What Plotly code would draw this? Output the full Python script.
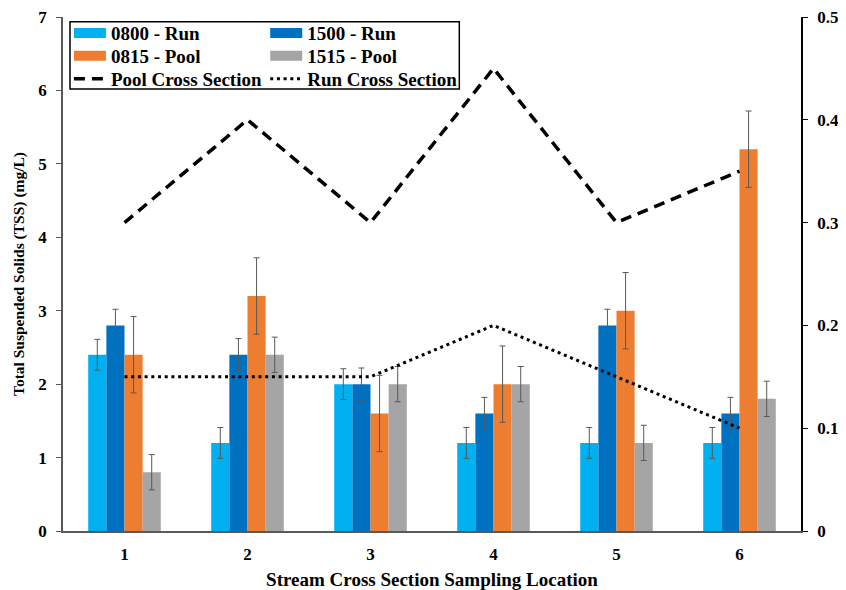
import plotly.graph_objects as go

locations = ["1", "2", "3", "4", "5", "6"]
run_0800 = [2.4, 1.2, 2.0, 1.2, 1.2, 1.2]
run_1500 = [2.8, 2.4, 2.0, 1.6, 2.8, 1.6]
pool_0815 = [2.4, 3.2, 1.6, 2.0, 3.0, 5.2]
pool_1515 = [0.8, 2.4, 2.0, 2.0, 1.2, 1.8]
err_0800 = [0.21] * 6
err_1500 = [0.22] * 6
err_0815 = [0.52] * 6
err_1515 = [0.24] * 6
pool_cross = [0.30, 0.40, 0.30, 0.45, 0.30, 0.35]
run_cross = [0.15, 0.15, 0.15, 0.20, 0.15, 0.10]

C_LB = "#00B0F0"
C_DB = "#0070C0"
C_OR = "#ED7D31"
C_GR = "#A5A5A5"
ERRC = "#595959"
FONT = "Liberation Serif"

fig = go.Figure()

bars = [
    ("0800 - Run", run_0800, err_0800, C_LB),
    ("1500 - Run", run_1500, err_1500, C_DB),
    ("0815 - Pool", pool_0815, err_0815, C_OR),
    ("1515 - Pool", pool_1515, err_1515, C_GR),
]
for name, vals, err, col in bars:
    fig.add_trace(go.Bar(
        x=locations, y=vals, name=name, marker_color=col, marker_line_width=0,
        error_y=dict(type="data", array=err, color=ERRC, thickness=1, width=3),
        showlegend=False, yaxis="y",
    ))

fig.add_trace(go.Scatter(x=locations, y=pool_cross, mode="lines", name="Pool Cross Section",
                         line=dict(color="black", width=3.5, dash="11px,7px"),
                         yaxis="y2", showlegend=False))
fig.add_trace(go.Scatter(x=locations, y=run_cross, mode="lines", name="Run Cross Section",
                         line=dict(color="black", width=3, dash="3px,3.7px"),
                         yaxis="y2", showlegend=False))

# legend entries: 2 columns x 3 rows, one legend per entry for exact row spacing
entries = [
    ("0800 - Run", C_LB, 10, "solid", 0, 0),
    ("1500 - Run", C_DB, 10, "solid", 1, 0),
    ("0815 - Pool", C_OR, 10, "solid", 0, 1),
    ("1515 - Pool", C_GR, 10, "solid", 1, 1),
    ("Pool Cross Section", "black", 3.5, "11px,7px", 0, 2),
    ("Run Cross Section", "black", 3, "3px,3.7px", 1, 2),
]
col_x = [0.008, 0.274]
row_y = [0.957, 0.9175, 0.878]

legend_common = dict(font=dict(family=FONT, size=19, color="black", weight="bold"),
                     bgcolor="rgba(0,0,0,0)", borderwidth=0, itemwidth=32,
                     tracegroupgap=0, yanchor="middle", xanchor="left",
                     orientation="v", yref="container")

legend_layout = {}
for i, (name, col, w, d, c, r) in enumerate(entries):
    key = "legend" if i == 0 else f"legend{i + 1}"
    fig.add_trace(go.Scatter(x=[None], y=[None], mode="lines", name=name,
                             line=dict(color=col, width=w, dash=d),
                             legend=key, showlegend=True))
    legend_layout[key] = dict(x=col_x[c], y=row_y[r], **legend_common)

fig.update_layout(
    width=838, height=582,
    margin=dict(l=55, r=45, t=9, b=59, autoexpand=False),
    paper_bgcolor="white", plot_bgcolor="white",
    font=dict(family=FONT, size=16, color="black"),
    barmode="group", bargap=0.41, bargroupgap=0,
    xaxis=dict(
        range=[-0.5, 5.5], showline=True, linecolor="#595959", linewidth=2,
        ticks="", showgrid=False, zeroline=False, ticklabelstandoff=7, automargin=False,
        ticklabeloverflow="allow",
        tickfont=dict(family=FONT, size=17, color="black", weight="bold"),
        title=dict(text="<b>Stream Cross Section Sampling Location</b>",
                   font=dict(family=FONT, size=19, color="black"), standoff=11),
    ),
    yaxis=dict(
        range=[0, 7], dtick=1, showline=True, linecolor="#595959", linewidth=1.5,
        ticks="outside", ticklen=5, tickcolor="#595959", showgrid=False, zeroline=False,
        ticklabelstandoff=6, automargin=False, ticklabeloverflow="allow",
        tickfont=dict(family=FONT, size=17, color="black", weight="bold"),
        title=dict(text="<b>Total Suspended Solids (TSS) (mg/L)</b>",
                   font=dict(family=FONT, size=15.5, color="black"), standoff=10),
    ),
    yaxis2=dict(
        range=[0, 0.5], dtick=0.1, overlaying="y", side="right", showline=True,
        linecolor="black", linewidth=1.5, ticks="outside", ticklen=5, tickcolor="black",
        showgrid=False, zeroline=False, tickformat=".1~f", ticklabelstandoff=6,
        automargin=False, ticklabeloverflow="allow",
        tickfont=dict(family=FONT, size=17, color="black", weight="bold"),
    ),
    shapes=[dict(type="rect", xref="paper", yref="paper",
                 x0=0.0095, x1=0.537, y0=0.86, y1=0.991,
                 line=dict(color="black", width=1.5), fillcolor="rgba(0,0,0,0)")],
    **legend_layout,
)

fig.write_html("out.html")
